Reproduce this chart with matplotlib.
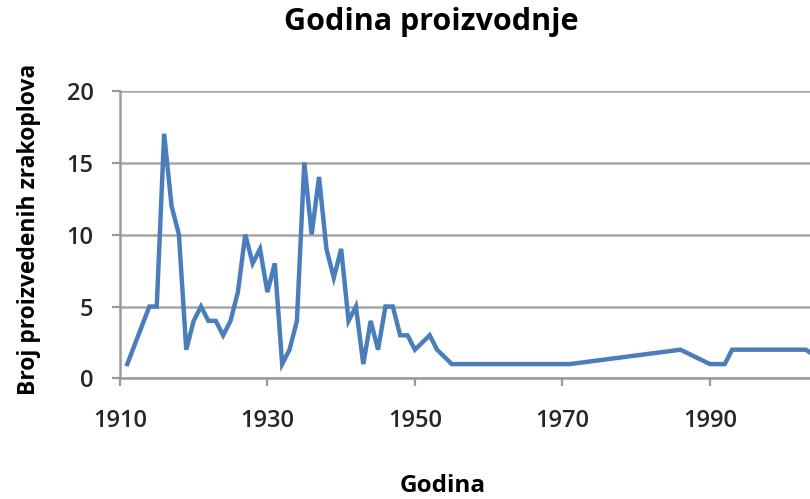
import matplotlib.pyplot as plt

# Podaci: godina i broj proizvedenih zrakoplova
godine = [1911, 1914, 1915, 1916, 1917, 1918, 1919, 1920, 1921, 1922,
          1923, 1924, 1925, 1926, 1927, 1928, 1929, 1930, 1931, 1932,
          1933, 1934, 1935, 1936, 1937, 1938, 1939, 1940, 1941, 1942,
          1943, 1944, 1945, 1946, 1947, 1948, 1949, 1950, 1952, 1953,
          1955, 1960, 1961, 1966, 1969, 1971, 1986, 1990, 1992, 1993,
          2003, 2006]
broj = [1, 5, 5, 17, 12, 10, 2, 4, 5, 4,
        4, 3, 4, 6, 10, 8, 9, 6, 8, 1,
        2, 4, 15, 10, 14, 9, 7, 9, 4, 5,
        1, 4, 2, 5, 5, 3, 3, 2, 3, 2,
        1, 1, 1, 1, 1, 1, 2, 1, 1, 2,
        2, 1]

x_ticks = [1910, 1930, 1950, 1970, 1990]
y_ticks = [0, 5, 10, 15, 20]

plt.rcParams['font.family'] = ['Open Sans', 'DejaVu Sans']

fig = plt.figure(figsize=(8.1, 4.99), dpi=100)
ax = fig.add_axes([0.148, 0.2415, 0.852, 0.577])

ax.plot(godine, broj, color='#4a7ebb', linewidth=3.2, solid_joinstyle='miter',
        zorder=3)

ax.set_xlim(1910, 2003.56)
ax.set_ylim(0, 20)

ax.set_xticks(x_ticks)
ax.tick_params(axis='x', length=6, width=1.6, color='#9a9a9a', pad=16,
               labelsize=17, labelcolor='#262626')

ax.set_yticks(y_ticks)
ax.tick_params(axis='y', length=6, width=1.6, color='#9a9a9a', pad=13,
               labelsize=17, labelcolor='#262626')
for lab in ax.get_xticklabels() + ax.get_yticklabels():
    lab.set_fontweight(600)

ax.grid(axis='y', color='#a6a6a6', linewidth=1.8)
ax.set_axisbelow(True)

for s in ['top', 'right']:
    ax.spines[s].set_visible(False)
for s in ['left', 'bottom']:
    ax.spines[s].set_color('#9a9a9a')
    ax.spines[s].set_linewidth(1.8)

fig.text(0.532, 0.94, 'Godina proizvodnje', ha='center', va='baseline',
         fontsize=22, fontweight='bold', color='black')
fig.text(0.547, 0.014, 'Godina', ha='center', va='baseline',
         fontsize=17.5, fontweight='bold', color='black')
fig.text(0.036, 0.54, 'Broj proizvedenih zrakoplova', ha='center',
         va='center', rotation=90, fontsize=16.5, fontweight='bold',
         color='black')

fig.savefig('out.png', dpi=100)
